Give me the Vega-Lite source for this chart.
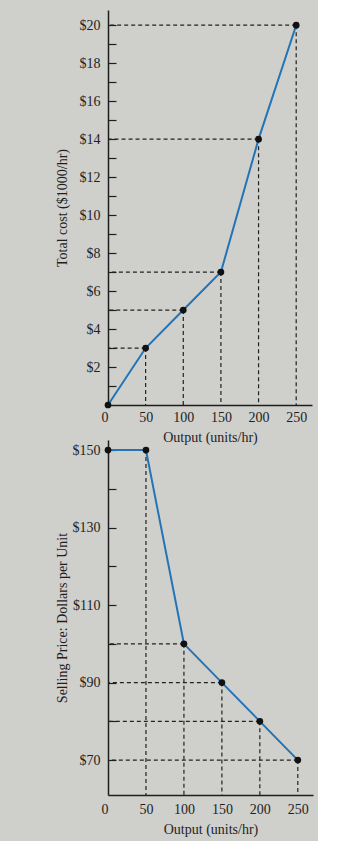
{
  "$schema": "https://vega.github.io/schema/vega-lite/v6.json",
  "background": "#cfcfcc",
  "padding": {"left": 55, "top": 10, "right": 5, "bottom": 5},
  "datasets": {
    "cost": [
      {"output": 0, "cost": 0},
      {"output": 50, "cost": 3},
      {"output": 100, "cost": 5},
      {"output": 150, "cost": 7},
      {"output": 200, "cost": 14},
      {"output": 250, "cost": 20}
    ],
    "price": [
      {"output": 0, "price": 150},
      {"output": 50, "price": 150},
      {"output": 100, "price": 100},
      {"output": 150, "price": 90},
      {"output": 200, "price": 80},
      {"output": 250, "price": 70}
    ]
  },
  "config": {
    "font": "Liberation Serif",
    "view": {"stroke": null},
    "concat": {"spacing": 35},
    "axis": {
      "grid": false,
      "labelFont": "Liberation Serif",
      "titleFont": "Liberation Serif",
      "labelFontSize": 14,
      "titleFontSize": 14,
      "titleFontWeight": "normal",
      "labelColor": "#1e1e1e",
      "titleColor": "#1e1e1e",
      "domainColor": "#1e1e1e",
      "domainWidth": 1.5,
      "tickColor": "#1e1e1e",
      "tickWidth": 1.2,
      "labelOverlap": false,
      "labelFlush": false
    }
  },
  "bounds": "flush",
  "vconcat": [
    {
      "width": 204,
      "height": 395,
      "data": {"name": "cost"},
      "layer": [
        {
          "transform": [{"filter": "datum.output > 0"}],
          "mark": {"type": "rule", "strokeDash": [4, 3], "color": "#222", "strokeWidth": 1.2},
          "encoding": {
            "x": {"field": "output", "type": "quantitative", "scale": {"domain": [0, 271], "nice": false}},
            "x2": {"datum": 0},
            "y": {"field": "cost", "type": "quantitative", "scale": {"domain": [0, 20.8], "nice": false}}
          }
        },
        {
          "transform": [{"filter": "datum.output > 0"}],
          "mark": {"type": "rule", "strokeDash": [4, 3], "color": "#222", "strokeWidth": 1.2},
          "encoding": {
            "x": {"field": "output", "type": "quantitative", "scale": {"domain": [0, 271], "nice": false}},
            "y": {"field": "cost", "type": "quantitative", "scale": {"domain": [0, 20.8], "nice": false}},
            "y2": {"datum": 0}
          }
        },
        {
          "mark": {"type": "line", "color": "#2374b6", "strokeWidth": 2},
          "encoding": {
            "x": {
              "field": "output",
              "type": "quantitative",
              "scale": {"domain": [0, 271], "nice": false},
              "axis": {
                "values": [0, 50, 100, 150, 200, 250],
                "tickCount": 10,
                "ticks": false,
                "labelPadding": 5,
                "titlePadding": 6,
                "labelOverlap": false,
                "labelAlign": {"expr": "datum.value == 0 ? 'right' : 'center'"},
                "title": "Output (units/hr)"
              }
            },
            "y": {
              "field": "cost",
              "type": "quantitative",
              "scale": {"domain": [0, 20.8], "nice": false},
              "axis": {
                "values": [1, 2, 3, 4, 5, 6, 7, 8, 9, 10, 11, 12, 13, 14, 15, 16, 17, 18, 19, 20],
                "tickCount": 30,
                "labelExpr": "datum.value % 2 == 0 ? '$' + datum.value : ''",
                "labelOverlap": false,
                "tickSize": -8,
                "labelPadding": 16,
                "titleX": -39,
                "title": "Total cost ($1000/hr)"
              }
            }
          }
        },
        {
          "mark": {"type": "circle", "color": "#111", "opacity": 1, "size": 45},
          "encoding": {
            "x": {"field": "output", "type": "quantitative", "scale": {"domain": [0, 271], "nice": false}},
            "y": {"field": "cost", "type": "quantitative", "scale": {"domain": [0, 20.8], "nice": false}}
          }
        }
      ]
    },
    {
      "width": 205,
      "height": 355,
      "data": {"name": "price"},
      "layer": [
        {
          "transform": [{"filter": "datum.output >= 100"}],
          "mark": {"type": "rule", "strokeDash": [4, 3], "color": "#222", "strokeWidth": 1.2},
          "encoding": {
            "x": {"field": "output", "type": "quantitative", "scale": {"domain": [0, 270], "nice": false}},
            "x2": {"datum": 0},
            "y": {"field": "price", "type": "quantitative", "scale": {"domain": [61, 152.6], "nice": false, "zero": false}}
          }
        },
        {
          "transform": [{"filter": "datum.output >= 50"}],
          "mark": {"type": "rule", "strokeDash": [4, 3], "color": "#222", "strokeWidth": 1.2},
          "encoding": {
            "x": {"field": "output", "type": "quantitative", "scale": {"domain": [0, 270], "nice": false}},
            "y": {"field": "price", "type": "quantitative", "scale": {"domain": [61, 152.6], "nice": false, "zero": false}},
            "y2": {"datum": 61}
          }
        },
        {
          "mark": {"type": "line", "color": "#2374b6", "strokeWidth": 2},
          "encoding": {
            "x": {
              "field": "output",
              "type": "quantitative",
              "scale": {"domain": [0, 270], "nice": false},
              "axis": {
                "values": [0, 50, 100, 150, 200, 250],
                "tickCount": 10,
                "ticks": false,
                "labelPadding": 7,
                "titlePadding": 6,
                "labelOverlap": false,
                "labelAlign": {"expr": "datum.value == 0 ? 'right' : 'center'"},
                "title": "Output (units/hr)"
              }
            },
            "y": {
              "field": "price",
              "type": "quantitative",
              "scale": {"domain": [61, 152.6], "nice": false, "zero": false},
              "axis": {
                "values": [70, 80, 90, 100, 110, 120, 130, 140, 150],
                "tickCount": 20,
                "labelExpr": "(datum.value - 70) % 20 == 0 ? '$' + datum.value : ''",
                "labelOverlap": false,
                "tickSize": -8,
                "labelPadding": 16,
                "titleX": -39,
                "title": "Selling Price: Dollars per Unit"
              }
            }
          }
        },
        {
          "mark": {"type": "circle", "color": "#111", "opacity": 1, "size": 45},
          "encoding": {
            "x": {"field": "output", "type": "quantitative", "scale": {"domain": [0, 270], "nice": false}},
            "y": {"field": "price", "type": "quantitative", "scale": {"domain": [61, 152.6], "nice": false, "zero": false}}
          }
        }
      ]
    }
  ]
}
